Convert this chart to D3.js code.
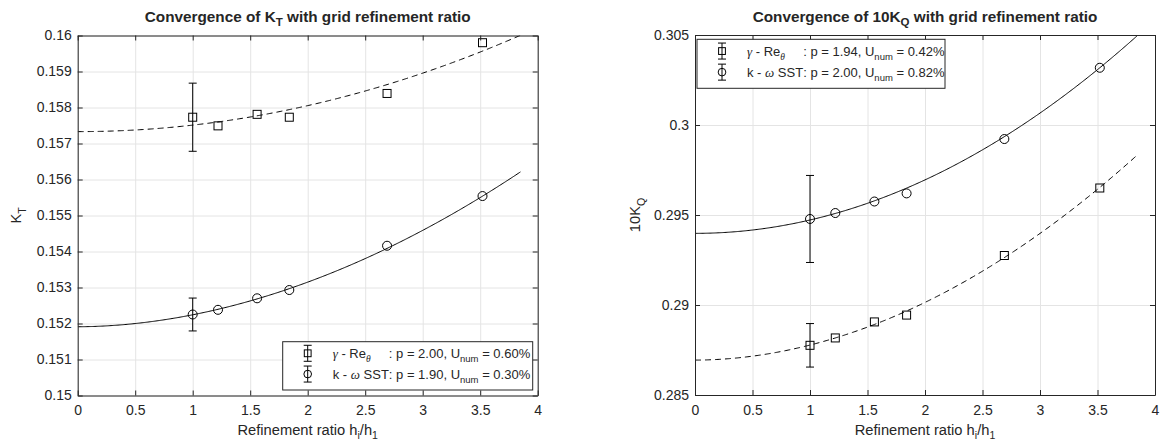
<!DOCTYPE html>
<html>
<head>
<meta charset="utf-8">
<script src="https://cdn.jsdelivr.net/npm/d3@7"></script>
<style>
  body { margin: 0; background: #fff; }
  text { font-family: "Liberation Sans", Arial, Helvetica, sans-serif; fill: #262626; }
</style>
</head>
<body>
<svg id="fig" width="1161" height="443"></svg>
<script>
// grid refinement ratios h_i/h_1
var hRatio  = [1, 1.22, 1.56, 1.84, 2.69, 3.52];

// K_T
var ktGamma = [0.15773, 0.15749, 0.15781, 0.15773, 0.15839, 0.15980];
var ktSST   = [0.15225, 0.15238, 0.15270, 0.15293, 0.15416, 0.15554];
var ktP     = [2.00, 1.90];          // observed order (legend)
var ktU     = [0.60, 0.30];          // U_num in %
var ktPhi0  = [0.15733, 0.15191];    // extrapolated value at h = 0
var ktAlpha = [0.0001805, 0.000332];

// 10K_Q
var kqGamma = [0.28776, 0.28817, 0.28906, 0.28944, 0.29275, 0.29650];
var kqSST   = [0.29478, 0.29511, 0.29575, 0.29620, 0.29922, 0.30318];
var kqP     = [1.94, 2.00];
var kqU     = [0.42, 0.82];
var kqPhi0  = [0.28694, 0.29398];
var kqAlpha = [0.000835, 0.0007425];

var hFitEnd = 3.85;
var xTicks  = [0, 0.5, 1, 1.5, 2, 2.5, 3, 3.5, 4];
var ktTicks = [0.15, 0.151, 0.152, 0.153, 0.154, 0.155, 0.156, 0.157, 0.158, 0.159, 0.16];
var kqTicks = [0.285, 0.29, 0.295, 0.3, 0.305];

var INK = "#262626";
var svg = d3.select("#fig");
svg.append("rect").attr("width", 1161).attr("height", 443).attr("fill", "#fff");

function fmt(d) { return String(+d.toFixed(3)); }

function drawPanel(p) {
  var x = d3.scaleLinear().domain([0, 4]).range([p.left, p.right]);
  var y = d3.scaleLinear().domain([p.yTicks[0], p.yTicks[p.yTicks.length - 1]]).range([p.bottom, p.top]);
  var g = svg.append("g");
  var h = p.bottom - p.top, w = p.right - p.left;

  // grid
  g.append("g").attr("transform", "translate(0," + p.bottom + ")")
    .call(d3.axisBottom(x).tickValues(xTicks).tickSize(-h).tickFormat(""))
    .call(s => s.select(".domain").remove())
    .selectAll("line").attr("stroke", "#e4e4e4");
  g.append("g").attr("transform", "translate(" + p.left + ",0)")
    .call(d3.axisLeft(y).tickValues(p.yTicks).tickSize(-w).tickFormat(""))
    .call(s => s.select(".domain").remove())
    .selectAll("line").attr("stroke", "#e4e4e4");

  // fitted curves, clipped to the axes box
  var clipId = "clip-" + p.id;
  svg.append("clipPath").attr("id", clipId).append("rect")
    .attr("x", p.left).attr("y", p.top).attr("width", w).attr("height", h);
  var line = d3.line().x(d => x(d[0])).y(d => y(d[1]));
  var hs = d3.range(0, hFitEnd + 1e-9, 0.01);
  p.series.forEach(function (s, i) {
    var pts = hs.map(hh => [hh, p.phi0[i] + p.alpha[i] * Math.pow(hh, p.order[i])]);
    g.append("path").attr("clip-path", "url(#" + clipId + ")")
      .attr("d", line(pts)).attr("fill", "none").attr("stroke", "#000")
      .attr("stroke-width", 1).attr("stroke-dasharray", i === 0 ? "6,4" : null);
  });

  // error bars at h = 1 and markers
  p.series.forEach(function (s, i) {
    var v = s.values[0], half = v * p.u[i] / 100;
    var eb = g.append("g").attr("stroke", "#000").attr("stroke-width", 1);
    eb.append("line").attr("x1", x(hRatio[0])).attr("x2", x(hRatio[0]))
      .attr("y1", y(v - half)).attr("y2", y(v + half));
    [v - half, v + half].forEach(function (c) {
      eb.append("line").attr("x1", x(hRatio[0]) - 4).attr("x2", x(hRatio[0]) + 4)
        .attr("y1", y(c)).attr("y2", y(c));
    });
    var m = g.append("g").selectAll("g").data(s.values).join("g")
      .attr("transform", (d, j) => "translate(" + x(hRatio[j]) + "," + y(d) + ")");
    drawMarker(m, s.marker);
  });

  // axes: ticks inward on all four sides
  var bx = g.append("g").attr("transform", "translate(0," + p.bottom + ")")
    .call(d3.axisBottom(x).tickValues(xTicks).tickSizeInner(-5).tickSizeOuter(0).tickPadding(10).tickFormat(fmt));
  var tx = g.append("g").attr("transform", "translate(0," + p.top + ")")
    .call(d3.axisTop(x).tickValues(xTicks).tickSizeInner(-5).tickSizeOuter(0).tickFormat(""));
  var ly = g.append("g").attr("transform", "translate(" + p.left + ",0)")
    .call(d3.axisLeft(y).tickValues(p.yTicks).tickSizeInner(-5).tickSizeOuter(0).tickPadding(6).tickFormat(fmt));
  var ry = g.append("g").attr("transform", "translate(" + p.right + ",0)")
    .call(d3.axisRight(y).tickValues(p.yTicks).tickSizeInner(-5).tickSizeOuter(0).tickFormat(""));
  [bx, tx, ly, ry].forEach(function (a) {
    a.selectAll(".domain, line").attr("stroke", INK);
    a.selectAll("text").attr("font-size", "14px").attr("fill", INK)
      .attr("font-family", "Liberation Sans, Arial, sans-serif");
  });

  // title
  var cx = (p.left + p.right) / 2;
  var t = g.append("text").attr("x", cx).attr("y", 22).attr("text-anchor", "middle")
    .attr("font-size", "15.3px").attr("font-weight", "bold");
  t.append("tspan").text(p.title[0]);
  t.append("tspan").attr("font-size", "11.5px").attr("dy", 4).text(p.title[1]);
  t.append("tspan").attr("dy", -4).text(p.title[2]);

  // x label
  var xl = g.append("text").attr("x", cx).attr("y", 435).attr("text-anchor", "middle").attr("font-size", "14.7px");
  xl.append("tspan").text("Refinement ratio h");
  xl.append("tspan").attr("font-size", "10.5px").attr("dy", 4).text("i");
  xl.append("tspan").attr("dy", -4).text("/h");
  xl.append("tspan").attr("font-size", "10.5px").attr("dy", 4).text("1");

  // y label
  var yl = g.append("text").attr("transform", "translate(" + p.yLabelX + "," + ((p.top + p.bottom) / 2) + ") rotate(-90)")
    .attr("text-anchor", "middle").attr("font-size", "14.7px");
  yl.append("tspan").text(p.yLabel[0]);
  yl.append("tspan").attr("font-size", "10.5px").attr("dy", 5).text(p.yLabel[1]);

  // legend
  var L = p.legend;
  var lg = g.append("g");
  lg.append("rect").attr("x", L.x).attr("y", L.y).attr("width", L.w).attr("height", L.h)
    .attr("fill", "#fff").attr("stroke", INK).attr("stroke-width", 1);
  var rows = [L.y + L.h * 0.24, L.y + L.h * 0.67];
  var texts = [];
  p.series.forEach(function (s, i) {
    var ry0 = rows[i], ix = L.x + 25;
    var ic = lg.append("g").attr("stroke", "#000").attr("stroke-width", 1);
    ic.append("line").attr("x1", ix).attr("x2", ix).attr("y1", ry0 - 8).attr("y2", ry0 + 8);
    ic.append("line").attr("x1", ix - 4).attr("x2", ix + 4).attr("y1", ry0 - 8).attr("y2", ry0 - 8);
    ic.append("line").attr("x1", ix - 4).attr("x2", ix + 4).attr("y1", ry0 + 8).attr("y2", ry0 + 8);
    drawMarker(lg.append("g").attr("transform", "translate(" + ix + "," + ry0 + ")"), s.marker, 0.85);
    var tt = lg.append("text").attr("x", L.x + 50).attr("y", ry0 + 4.5).attr("font-size", "13px");
    texts.push(tt);
  });
  // row 1: gamma - Re_theta ; row 2: k - omega SST
  var t1 = texts[0], t2 = texts[1];
  t2.append("tspan").text("k - ");
  t2.append("tspan").attr("font-family", "Liberation Serif, serif").attr("font-style", "italic").text("ω");
  t2.append("tspan").text(" SST");
  var colonX = L.x + 50 + t2.node().getComputedTextLength();
  t1.append("tspan").attr("font-family", "Liberation Serif, serif").attr("font-style", "italic").text("γ");
  t1.append("tspan").text(" - Re");
  t1.append("tspan").attr("font-family", "Liberation Serif, serif").attr("font-style", "italic")
    .attr("font-size", "9.5px").attr("dy", 4).text("θ");
  [t1, t2].forEach(function (tt, i) {
    tt.append("tspan").attr("x", colonX).attr("dy", i === 0 ? -4 : 0)
      .text(": p = " + p.order[i].toFixed(2) + ", U");
    tt.append("tspan").attr("font-size", "9.5px").attr("dy", 4).text("num");
    tt.append("tspan").attr("dy", -4).text(" = " + p.u[i].toFixed(2) + "%");
  });
}

function drawMarker(sel, type, k) {
  k = k || 1;
  if (type === "square") {
    sel.append("rect").attr("x", -4 * k).attr("y", -4 * k).attr("width", 8 * k).attr("height", 8 * k)
      .attr("fill", "none").attr("stroke", "#000").attr("stroke-width", 1);
  } else {
    sel.append("circle").attr("r", 4.5 * k).attr("fill", "none").attr("stroke", "#000").attr("stroke-width", 1);
  }
}

drawPanel({
  id: "kt", left: 77.7, right: 537.7, top: 35.5, bottom: 395.5,
  yTicks: ktTicks, title: ["Convergence of K", "T", " with grid refinement ratio"],
  yLabel: ["K", "T"], yLabelX: 20.5,
  series: [{values: ktGamma, marker: "square"}, {values: ktSST, marker: "circle"}],
  order: ktP, u: ktU, phi0: ktPhi0, alpha: ktAlpha,
  legend: {x: 282.7, y: 341.7, w: 250, h: 48.3}
});

drawPanel({
  id: "kq", left: 695, right: 1155, top: 35, bottom: 395,
  yTicks: kqTicks, title: ["Convergence of 10K", "Q", " with grid refinement ratio"],
  yLabel: ["10K", "Q"], yLabelX: 640,
  series: [{values: kqGamma, marker: "square"}, {values: kqSST, marker: "circle"}],
  order: kqP, u: kqU, phi0: kqPhi0, alpha: kqAlpha,
  legend: {x: 697, y: 39.3, w: 248, h: 49}
});
</script>
</body>
</html>
